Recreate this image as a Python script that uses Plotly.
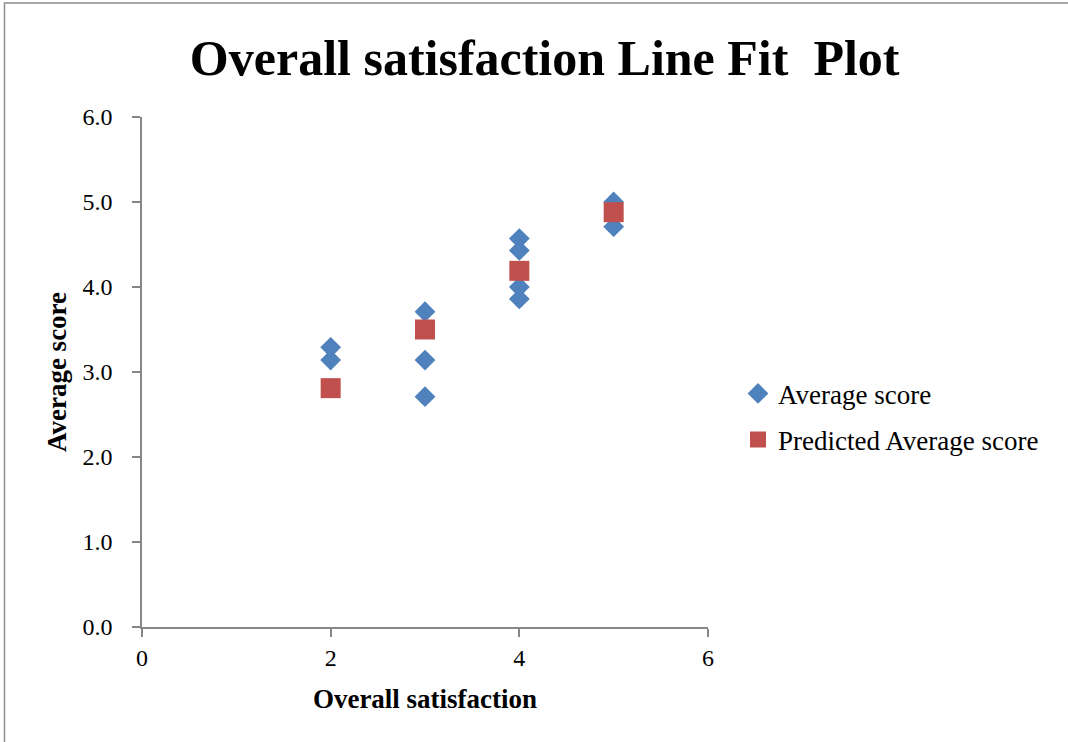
import plotly.graph_objects as go

# Observed scores by overall satisfaction rating
sat_observed = [2, 2, 3, 3, 3, 4, 4, 4, 4, 5, 5]
avg_score = [3.29, 3.14, 3.71, 3.14, 2.71, 4.57, 4.43, 4.00, 3.86, 5.00, 4.71]

# Fitted values from the regression line
sat_fit = [2, 3, 4, 5]
predicted_score = [2.81, 3.50, 4.19, 4.88]

x_ticks = [0, 2, 4, 6]
y_ticks = [0, 1, 2, 3, 4, 5, 6]

serif = "Liberation Serif"
axis_grey = "#868686"

fig = go.Figure()
fig.add_trace(go.Scatter(
    x=sat_observed, y=avg_score, mode="markers", name="Average score",
    legendgroup="obs",
    marker=dict(symbol="diamond", size=16, color="#4F81BD", line=dict(width=0)),
))
fig.add_trace(go.Scatter(
    x=sat_fit, y=predicted_score, mode="markers", name="Predicted Average score",
    legendgroup="fit",
    marker=dict(symbol="square", size=20, color="#C0504D", line=dict(width=0)),
))

fig.update_layout(
    width=1068, height=742,
    margin=dict(l=142, r=360, t=117, b=115),
    paper_bgcolor="white", plot_bgcolor="white",
    font=dict(family=serif, color="black", size=24),
    title=dict(
        text="<b>Overall satisfaction Line Fit  Plot</b>",
        x=0.51, xanchor="center", y=0.922, yanchor="middle",
        font=dict(family=serif, size=50, color="black"),
    ),
    xaxis=dict(
        range=[0, 6], tickvals=x_ticks, ticktext=[str(v) for v in x_ticks],
        showgrid=False, zeroline=False, showline=True, linecolor=axis_grey, linewidth=1.5,
        ticks="outside", ticklen=8, tickcolor=axis_grey, tickwidth=1.5,
        tickfont=dict(size=24), ticklabelstandoff=0,
        title=dict(text="<b>Overall satisfaction</b>", font=dict(size=27), standoff=20),
    ),
    yaxis=dict(
        range=[0, 6], tickvals=y_ticks, ticktext=[f"{v:.1f}" for v in y_ticks],
        showgrid=False, zeroline=False, showline=True, linecolor=axis_grey, linewidth=1.5,
        ticks="outside", ticklen=8, tickcolor=axis_grey, tickwidth=1.5,
        tickfont=dict(size=24), ticklabelstandoff=15,
        title=dict(text="<b>Average score</b>", font=dict(size=27), standoff=8),
    ),
    legend=dict(
        x=1.053, xanchor="left", y=0.412, yanchor="middle",
        font=dict(size=27), traceorder="grouped", tracegroupgap=8,
        itemsizing="trace", bgcolor="rgba(0,0,0,0)",
    ),
    shapes=[dict(
        type="rect", xref="paper", yref="paper",
        x0=-137.5 / 566, x1=1080 / 566 - 142 / 566,
        y0=-130 / 510, y1=1 + 114 / 510,
        line=dict(color="#8c8c8c", width=1.5), fillcolor="rgba(0,0,0,0)", layer="below",
    )],
)

fig.write_html("out.html")
